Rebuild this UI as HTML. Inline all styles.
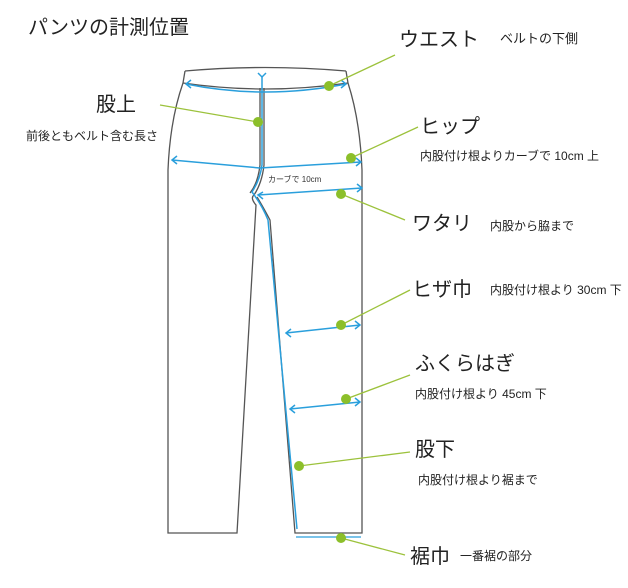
<!DOCTYPE html>
<html><head><meta charset="utf-8"><style>
body{margin:0;background:#fff;}
svg{display:block;font-family:"Liberation Sans","Noto Sans CJK JP",sans-serif;}
.b{font-size:20px;fill:#222}
.s{font-size:12px;fill:#222}
</style></head><body>
<svg width="628" height="588" viewBox="0 0 628 588" xmlns="http://www.w3.org/2000/svg">
<g fill="none" stroke="#555" stroke-width="1.3">
<path d="M185,71 Q265,64 346,71"/>
<path d="M183,83 Q265,95 348,83"/>
<path d="M185,71 L183,83 Q170,120 168,170 L168,533 L237,533 L256,205 Q250,198 254,195 Q262,183 264,165 L264,88"/>
<path d="M346,71 L348,83 Q360,120 362,170 L362,533 L295,533 L270,220 Q262,205 257,197"/>
<path d="M260,88 L260,165 Q258,183 250,193"/>
</g>
<g fill="none" stroke="#2a9fdc" stroke-width="1.5">
<path d="M186,84 Q265,100 346,84"/>
<path d="M262,77 L262,165 Q260,180 252,192 Q262,205 268,220 L297,529"/>
<path d="M172,160 L260,168 L361,162"/>
<path d="M258,195 L362,188"/>
<path d="M286,333 L360,325"/>
<path d="M290,409 L360,402"/>
<path d="M296,537 L361,537" stroke-width="1.2"/>
<path d="M191,80 L186,84 L191,88 M341,80 L346,84 L341,88 M177,156 L172,160 L177,164 M356,158 L361,162 L356,166 M357,184 L362,188 L357,192 M263,192 L258,195 L263,199 M258,73 L262,77 L266,73 M291,329 L286,333 L291,337 M355,321 L360,325 L355,329 M295,405 L290,409 L295,413 M355,398 L360,402 L355,406"/>
</g>
<g stroke="#9cc23c" stroke-width="1.3">
<line x1="329" y1="86" x2="395" y2="55"/>
<line x1="258" y1="122" x2="160" y2="105"/>
<line x1="351" y1="158" x2="418" y2="127"/>
<line x1="341" y1="194" x2="405" y2="220"/>
<line x1="341" y1="325" x2="410" y2="290"/>
<line x1="346" y1="399" x2="410" y2="375"/>
<line x1="299" y1="466" x2="410" y2="452"/>
<line x1="341" y1="538" x2="405" y2="555"/>
</g>
<g fill="#8cbf2a">
<circle cx="329" cy="86" r="5"/><circle cx="258" cy="122" r="5"/>
<circle cx="351" cy="158" r="5"/><circle cx="341" cy="194" r="5"/>
<circle cx="341" cy="325" r="5"/><circle cx="346" cy="399" r="5"/>
<circle cx="299" cy="466" r="5"/><circle cx="341" cy="538" r="5"/>
</g>
<text x="28" y="34" class="b">パンツの計測位置</text>
<text x="399" y="46" class="b">ウエスト</text><text x="500" y="43" class="s" style="font-size:13px">ベルトの下側</text>
<text x="96" y="111" class="b">股上</text><text x="26" y="140" class="s">前後ともベルト含む長さ</text>
<text x="420" y="133" class="b">ヒップ</text><text x="420" y="160" class="s">内股付け根よりカーブで 10cm 上</text>
<text x="268" y="182" style="font-size:8px" fill="#333">カーブで 10cm</text>
<text x="412" y="230" class="b">ワタリ</text><text x="490" y="230" class="s">内股から脇まで</text>
<text x="412" y="296" class="b">ヒザ巾</text><text x="490" y="294" class="s">内股付け根より 30cm 下</text>
<text x="415" y="370" class="b">ふくらはぎ</text><text x="415" y="398" class="s">内股付け根より 45cm 下</text>
<text x="415" y="456" class="b">股下</text><text x="418" y="484" class="s">内股付け根より裾まで</text>
<text x="410" y="563" class="b">裾巾</text><text x="460" y="560" class="s">一番裾の部分</text>
</svg>
</body></html>
